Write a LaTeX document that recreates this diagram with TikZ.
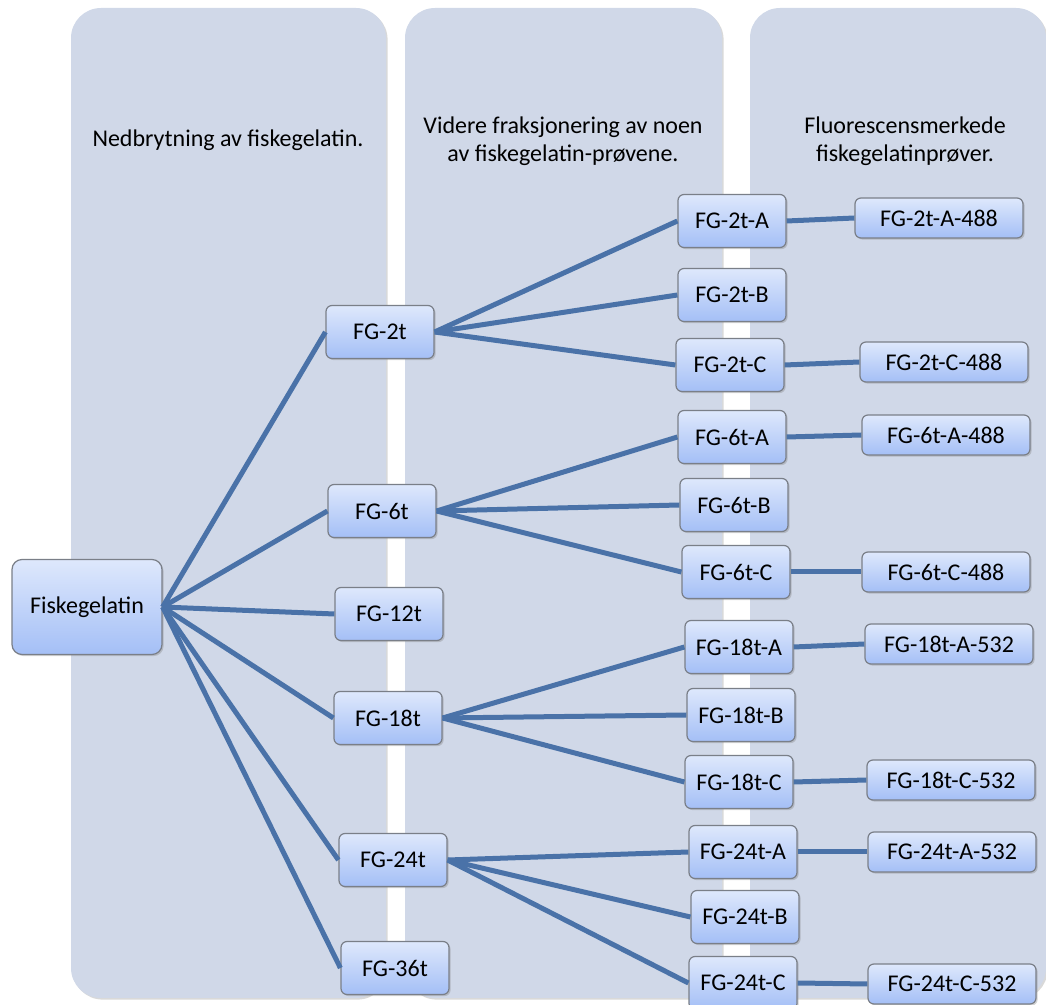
\documentclass[tikz,border=0pt]{standalone}
\usepackage{fontspec}
\setmainfont{Carlito}
\usetikzlibrary{shadows}
\definecolor{lanefill}{HTML}{D0D8E8}
\definecolor{linkblue}{HTML}{4A72A8}
\definecolor{boxtop}{HTML}{DEE8FC}
\definecolor{boxbot}{HTML}{A4BFF6}
\definecolor{boxrim}{HTML}{7A7F88}
\begin{document}
\begin{tikzpicture}[x=0.5pt,y=-0.5pt,font=\fontsize{12}{14}\selectfont]
    \tikzstyle{lane}=[fill=lanefill, rounded corners=15pt, drop shadow={shadow xshift=0.8pt, shadow yshift=-0.8pt, opacity=0.3}]
    \tikzstyle{box}=[draw=boxrim, line width=0.6pt, rounded corners=3pt, top color=boxtop, bottom color=boxbot, inner sep=0pt, align=center, drop shadow={shadow xshift=0.8pt, shadow yshift=-0.8pt, opacity=0.35}]
    \tikzstyle{rootbox}=[box, minimum width=75pt, minimum height=47.5pt, rounded corners=5pt]
    \tikzstyle{midbox}=[box, minimum width=54pt, minimum height=26.5pt]
    \tikzstyle{endbox}=[box, minimum width=84pt, minimum height=20pt]
    \tikzstyle{head}=[align=center]
    \tikzstyle{link}=[draw=linkblue, line width=2.5pt]
    \useasboundingbox (0,0) rectangle (1046,1005);

    % lanes
    \path[lane] (71,8) rectangle (386,998);
    \path[lane] (405,8) rectangle (722,998);
    \path[lane] (750,8) rectangle (1046,998);
    \node[head] (h1) at (228,140) {Nedbrytning av fiskegelatin.};
    \node[head] (h2) at (563,141) {Videre fraksjonering av noen\\ av fiskegelatin-prøvene.};
    \node[head] (h3) at (905,141) {Fluorescensmerkede\\ fiskegelatinprøver.};

    \node[rootbox] (fg) at (87,607) {Fiskegelatin};

    \node[midbox] (fg2) at (380,332) {FG-2t};
    \node[midbox] (fg6) at (382,511) {FG-6t};
    \node[midbox] (fg12) at (389,614) {FG-12t};
    \node[midbox] (fg18) at (388,718) {FG-18t};
    \node[midbox] (fg24) at (393,860) {FG-24t};
    \node[midbox] (fg36) at (395,968) {FG-36t};

    \node[midbox] (fg2a) at (732,221) {FG-2t-A};
    \node[midbox] (fg2b) at (732,295) {FG-2t-B};
    \node[midbox] (fg2c) at (730,365) {FG-2t-C};
    \node[midbox] (fg6a) at (732,437) {FG-6t-A};
    \node[midbox] (fg6b) at (734,505) {FG-6t-B};
    \node[midbox] (fg6c) at (736,572) {FG-6t-C};
    \node[midbox] (fg18a) at (739,647) {FG-18t-A};
    \node[midbox] (fg18b) at (741,715) {FG-18t-B};
    \node[midbox] (fg18c) at (739,782) {FG-18t-C};
    \node[midbox] (fg24a) at (743,852) {FG-24t-A};
    \node[midbox] (fg24b) at (745,917) {FG-24t-B};
    \node[midbox] (fg24c) at (743,983) {FG-24t-C};

    \node[endbox] (fg2a488) at (939,218) {FG-2t-A-488};
    \node[endbox] (fg2c488) at (944,362) {FG-2t-C-488};
    \node[endbox] (fg6a488) at (946,435) {FG-6t-A-488};
    \node[endbox] (fg6c488) at (946,572) {FG-6t-C-488};
    \node[endbox] (fg18a532) at (949,644) {FG-18t-A-532};
    \node[endbox] (fg18c532) at (951,780) {FG-18t-C-532};
    \node[endbox] (fg24a532) at (952,852) {FG-24t-A-532};
    \node[endbox] (fg24c532) at (952,984) {FG-24t-C-532};

    % connectors
    \foreach \c in {fg2,fg6,fg12,fg18,fg24,fg36}
        \draw[link] (fg.east) -- (\c.west);
    \foreach \p in {fg2,fg6,fg18,fg24}
        \foreach \s in {a,b,c}
            \draw[link] (\p.east) -- (\p\s.west);
    \draw[link] (fg2a.east) -- (fg2a488.west);
    \draw[link] (fg2c.east) -- (fg2c488.west);
    \draw[link] (fg6a.east) -- (fg6a488.west);
    \draw[link] (fg6c.east) -- (fg6c488.west);
    \draw[link] (fg18a.east) -- (fg18a532.west);
    \draw[link] (fg18c.east) -- (fg18c532.west);
    \draw[link] (fg24a.east) -- (fg24a532.west);
    \draw[link] (fg24c.east) -- (fg24c532.west);
\end{tikzpicture}
\end{document}
